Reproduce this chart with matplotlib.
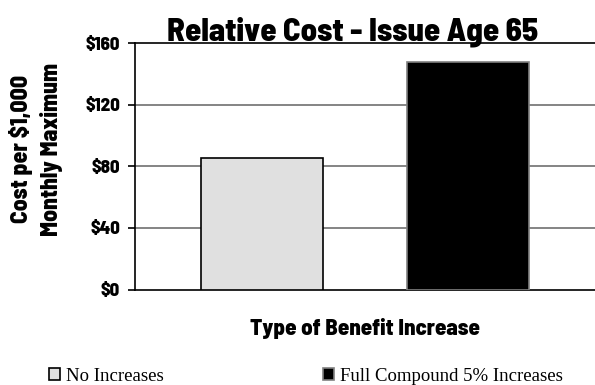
import matplotlib
matplotlib.use('Agg')
import matplotlib.pyplot as plt
from matplotlib.ticker import FuncFormatter

#-----------------Data-------------

categories = ['No Increases', 'Full Compound 5% Increases']
costs = [85.5, 148]
bar_colors = ['#e0e0e0', '#000000']
edge_colors = ['#000000', '#808080']
y_ticks = [0, 40, 80, 120, 160]

#-----------------Figure-------------

fig = plt.figure(figsize=(5.95, 3.85), dpi=100)
ax = fig.add_axes([0.2277, 0.248, 0.7723, 0.640])

cond = 'Barlow Semi Condensed'
heavy = 800

bars = []
for i, (cat, val) in enumerate(zip(categories, costs)):
    b = ax.bar(i, val, width=0.593, color=bar_colors[i], edgecolor=edge_colors[i],
               linewidth=1.2, label=cat, zorder=3)
    bars.append(b)

ax.set_xlim(-0.617, 1.617)
ax.set_ylim(0, 160)
ax.set_yticks(y_ticks)
ax.yaxis.set_major_formatter(FuncFormatter(lambda v, p: f'${v:.0f}'))
ax.set_xticks([])

# horizontal gridlines, the top one darker
for y in y_ticks[1:]:
    ax.axhline(y, color='#000000' if y == 160 else '#707070', lw=1.2, zorder=1, clip_on=False)

for s in ['top', 'right']:
    ax.spines[s].set_visible(False)
ax.spines['left'].set_linewidth(1.2)
ax.spines['bottom'].set_linewidth(1.2)
ax.tick_params(axis='y', direction='out', length=5, width=1.2, pad=6)
for lbl in ax.get_yticklabels():
    lbl.set_fontfamily(cond)
    lbl.set_fontweight(heavy)
    lbl.set_fontsize(13.5)

fig.text(0.061, 0.613, 'Cost per $1,000\nMonthly Maximum', ha='center', va='center',
         rotation=90, fontfamily=cond, fontweight=heavy, fontsize=17, linespacing=1.4)

fig.text(0.613, 0.130, 'Type of Benefit Increase', ha='center', va='baseline',
         fontfamily=cond, fontweight=heavy, fontsize=16.5)

fig.text(0.592, 0.896, 'Relative Cost - Issue Age 65', ha='center', va='baseline',
         fontfamily=cond, fontweight=heavy, fontsize=23.5)

fig.legend(handles=[b[0] for b in bars], labels=categories, loc='center left',
           bbox_to_anchor=(0.082, 0.022), ncol=2, frameon=False,
           prop={'family': 'Liberation Serif', 'size': 13.5},
           handlelength=0.6, handleheight=0.6, handletextpad=0.3,
           columnspacing=8.5, borderaxespad=0, borderpad=0)

fig.savefig('out.png', dpi=100)
